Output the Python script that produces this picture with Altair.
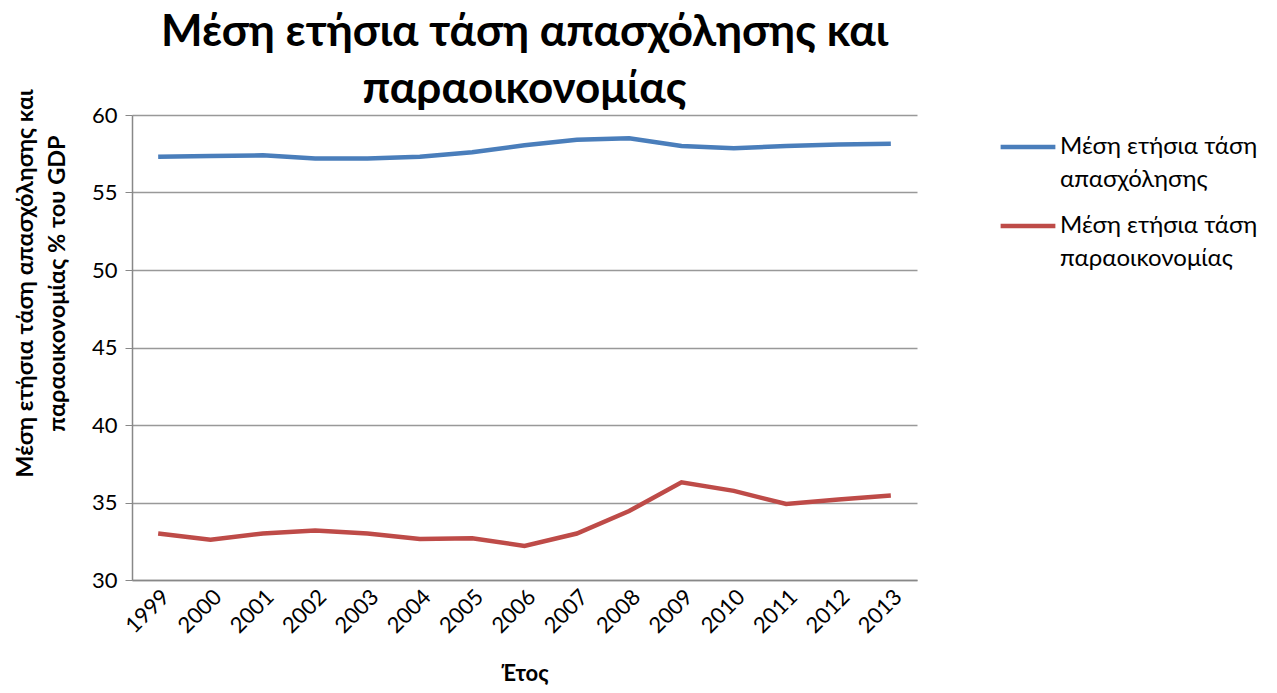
import altair as alt
import pandas as pd

years = [str(y) for y in range(1999, 2014)]
employment = [57.3, 57.35, 57.4, 57.2, 57.2, 57.3, 57.6, 58.05, 58.4, 58.5, 58.0, 57.85, 58.0, 58.1, 58.15]
shadow = [33.0, 32.6, 33.0, 33.2, 33.0, 32.65, 32.7, 32.2, 33.0, 34.45, 36.3, 35.75, 34.9, 35.2, 35.45]
s1 = "Μέση ετήσια τάση απασχόλησης"
s2 = "Μέση ετήσια τάση παραοικονομίας"

df = pd.DataFrame({
    "year": years * 2,
    "value": employment + shadow,
    "series": [s1] * len(years) + [s2] * len(years),
})

FONT = "Lato"

chart = alt.Chart(df).mark_line(strokeWidth=4.5).encode(
    x=alt.X("year:O", title="Έτος",
            scale=alt.Scale(paddingOuter=0.5),
            axis=alt.Axis(labelAngle=-45, labelFontSize=22, labelFont=FONT, labelColor="#000",
                          labelAlign="right", labelBaseline="top", labelPadding=6,
                          ticks=False, domainColor="#888", domainWidth=1.5,
                          titleFontSize=22, titleFont=FONT, titleFontWeight="bold",
                          titleColor="#000", titlePadding=27)),
    y=alt.Y("value:Q", title=["Μέση ετήσια τάση απασχόλησης και", "παραοικονομίας % του GDP"],
            scale=alt.Scale(domain=[30, 60], nice=False, zero=False),
            axis=alt.Axis(values=[30, 35, 40, 45, 50, 55, 60], labelFontSize=22, labelFont=FONT,
                          labelColor="#000", labelPadding=8, tickColor="#888", tickSize=7,
                          domainColor="#888", domainWidth=1.5, gridColor="#999", gridWidth=1.5,
                          titleFontSize=23.5, titleFont=FONT, titleFontWeight="bold",
                          titleColor="#000", titleLineHeight=32, titleY=168, titleX=-107,
                          titleAlign="center", titleBaseline="middle")),
    color=alt.Color("series:N", scale=alt.Scale(domain=[s1, s2], range=["#4a7ebb", "#be4b48"]),
                    legend=alt.Legend(title=None, orient="none", legendX=866, legendY=2,
                                      symbolType="stroke", symbolSize=3000, symbolStrokeWidth=4.5,
                                      labelFontSize=24, labelFont=FONT, labelColor="#000",
                                      labelLimit=400, rowPadding=4, labelOffset=2,
                                      labelExpr="datum.label == '" + s1 + "' ? ['Μέση ετήσια τάση', 'απασχόλησης'] : ['Μέση ετήσια τάση', 'παραοικονομίας']")),
).properties(
    width=785, height=465,
    title=alt.TitleParams(["Μέση ετήσια τάση απασχόλησης και", "παραοικονομίας"], fontSize=44,
                          font=FONT, fontWeight="bold", color="#000", anchor="middle",
                          lineHeight=57, offset=-23),
    autosize=alt.AutoSizeParams(type="none"),
    padding={"left": 124, "top": 107, "right": 352, "bottom": 105},
).configure(style={"guide-label": {"lineHeight": 33}}).configure_view(stroke=None)

chart.save("out.html", embed_options={"renderer": "svg", "actions": False})
